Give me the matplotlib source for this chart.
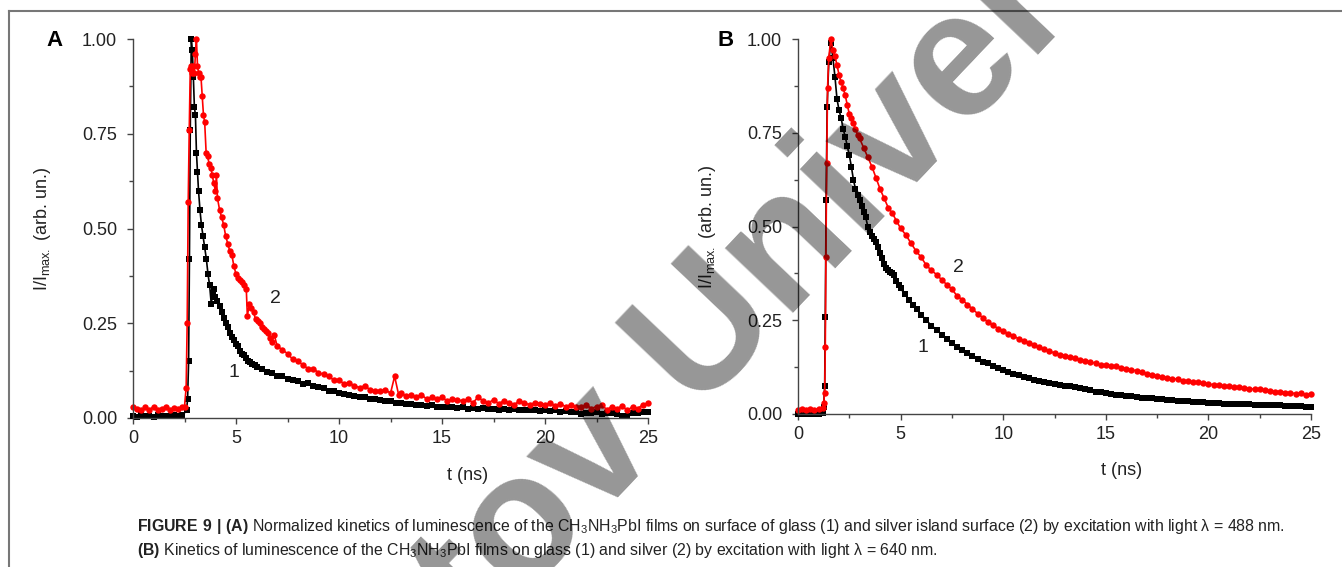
import matplotlib
matplotlib.use("Agg")
import matplotlib.pyplot as plt
from matplotlib.lines import Line2D
from matplotlib.ticker import MultipleLocator

plt.rcParams["font.family"] = ["Liberation Sans", "DejaVu Sans"]
plt.rcParams["mathtext.fontset"] = "custom"
plt.rcParams["mathtext.rm"] = "Liberation Sans"
plt.rcParams["mathtext.bf"] = "Liberation Sans:bold"
plt.rcParams["mathtext.default"] = "regular"

# ---- panel A: excitation 488 nm ----
t_a1 = [0.0, 0.2, 0.4, 0.6, 0.8, 1.0, 1.2, 1.4, 1.6, 1.8, 2.0, 2.2, 2.4, 2.6,
        2.65, 2.7, 2.74, 2.78, 2.83, 2.88, 2.93, 2.98, 3.03, 3.08, 3.13, 3.18,
        3.25, 3.32, 3.4, 3.48, 3.56, 3.64, 3.72, 3.8, 3.86, 3.93,
        4.0, 4.1, 4.2, 4.3, 4.4, 4.5, 4.6, 4.7, 4.8, 4.9, 5.0, 5.1, 5.2, 5.3,
        5.4, 5.5, 5.6, 5.7, 5.8, 5.9,
        6.0, 6.25, 6.5, 6.75, 7.0, 7.25, 7.5, 7.75, 8.0, 8.25, 8.5, 8.75,
        9.0, 9.25, 9.5, 9.75, 10.0, 10.25, 10.5, 10.75, 11.0, 11.25, 11.5,
        11.75, 12.0, 12.25, 12.5, 12.75, 13.0, 13.25, 13.5, 13.75, 14.0,
        14.25, 14.5, 14.75, 15.0, 15.25, 15.5, 15.75, 16.0, 16.25, 16.5,
        16.75, 17.0, 17.25, 17.5, 17.75, 18.0, 18.25, 18.5, 18.75, 19.0,
        19.25, 19.5, 19.75, 20.0, 20.25, 20.5, 20.75, 21.0, 21.25, 21.5,
        21.75, 22.0, 22.25, 22.5, 22.75, 23.0, 23.25, 23.5, 23.75, 24.0,
        24.25, 24.5, 24.75, 25.0]
i_a1 = [0.005, 0.003, 0.008, 0.004, 0.006, 0.003, 0.007, 0.005, 0.004, 0.006, 0.008, 0.005, 0.007, 0.02,
        0.05, 0.15, 0.42, 0.76, 1.0, 0.97, 0.90, 0.82, 0.80, 0.70, 0.65, 0.60,
        0.55, 0.51, 0.48, 0.45, 0.42, 0.38, 0.35, 0.30, 0.33, 0.34,
        0.32, 0.31, 0.295, 0.28, 0.265, 0.25, 0.24, 0.225, 0.215, 0.205, 0.195, 0.19, 0.178, 0.17,
        0.165, 0.158, 0.15, 0.148, 0.142, 0.14,
        0.135, 0.13, 0.122, 0.12, 0.11, 0.112, 0.104, 0.10, 0.097, 0.09, 0.092, 0.085,
        0.082, 0.08, 0.072, 0.07, 0.066, 0.064, 0.06, 0.058, 0.056, 0.055, 0.05,
        0.05, 0.047, 0.045, 0.044, 0.04, 0.04, 0.037, 0.038, 0.034, 0.035,
        0.032, 0.033, 0.03, 0.03, 0.028, 0.03, 0.026, 0.028, 0.025, 0.027,
        0.024, 0.026, 0.023, 0.025, 0.022, 0.024, 0.021, 0.023, 0.02, 0.022,
        0.02, 0.021, 0.018, 0.02, 0.019, 0.02, 0.017, 0.018, 0.016, 0.017,
        0.01, 0.014, 0.012, 0.015, 0.01, 0.012, 0.013, 0.01, 0.006, 0.004,
        0.012, 0.014, 0.015, 0.016]

t_a2 = [0.0, 0.2, 0.4, 0.6, 0.8, 1.0, 1.2, 1.4, 1.6, 1.8, 2.0, 2.2, 2.4, 2.5,
        2.58, 2.63, 2.68, 2.73, 2.78, 2.83, 2.88, 2.93, 2.98, 3.03, 3.08, 3.13,
        3.18, 3.23, 3.3, 3.36, 3.42, 3.48, 3.55, 3.62, 3.7, 3.78, 3.85, 3.92,
        4.0, 4.05, 4.1, 4.2, 4.3, 4.4, 4.5, 4.6, 4.7, 4.8, 4.9, 5.0, 5.1, 5.2,
        5.3, 5.4, 5.5, 5.55, 5.65, 5.75, 5.85, 5.95, 6.05, 6.15, 6.25, 6.35,
        6.45, 6.55, 6.65, 6.75, 6.85,
        7.0, 7.25, 7.5, 7.75, 8.0, 8.25, 8.5, 8.75, 9.0, 9.25, 9.5, 9.75,
        10.0, 10.25, 10.5, 10.75, 11.0, 11.25, 11.5, 11.75, 12.0, 12.25,
        12.5, 12.7, 12.9, 13.0, 13.25, 13.5, 13.75, 14.0, 14.25, 14.5, 14.75,
        15.0, 15.25, 15.5, 15.75, 16.0, 16.25, 16.5, 16.75, 17.0, 17.25,
        17.5, 17.75, 18.0, 18.25, 18.5, 18.75, 19.0, 19.25, 19.5, 19.75,
        20.0, 20.25, 20.5, 20.75, 21.0, 21.25, 21.5, 21.75, 22.0, 22.25,
        22.5, 22.75, 23.0, 23.25, 23.5, 23.75, 24.0, 24.25, 24.5, 24.75, 25.0]
i_a2 = [0.03, 0.025, 0.02, 0.028, 0.022, 0.03, 0.02, 0.025, 0.03, 0.022, 0.027, 0.025, 0.03, 0.03,
        0.08, 0.25, 0.57, 0.76, 0.92, 0.93, 0.91, 0.93, 0.91, 0.96, 1.0, 0.93,
        0.91, 0.90, 0.90, 0.85, 0.80, 0.78, 0.70, 0.69, 0.67, 0.66, 0.64, 0.62,
        0.60, 0.64, 0.58, 0.55, 0.53, 0.51, 0.48, 0.46, 0.44, 0.43, 0.40, 0.38, 0.37, 0.365,
        0.36, 0.35, 0.34, 0.27, 0.30, 0.29, 0.28, 0.26, 0.255, 0.25, 0.24, 0.235,
        0.23, 0.225, 0.21, 0.20, 0.22,
        0.19, 0.18, 0.17, 0.155, 0.15, 0.14, 0.13, 0.13, 0.12, 0.115, 0.11, 0.10,
        0.10, 0.09, 0.092, 0.085, 0.08, 0.085, 0.075, 0.072, 0.07, 0.075,
        0.065, 0.11, 0.06, 0.065, 0.058, 0.06, 0.055, 0.062, 0.05, 0.055, 0.05,
        0.055, 0.045, 0.05, 0.048, 0.045, 0.05, 0.04, 0.055, 0.045, 0.04,
        0.048, 0.038, 0.045, 0.04, 0.035, 0.045, 0.04, 0.035, 0.04, 0.038,
        0.035, 0.04, 0.032, 0.038, 0.03, 0.035, 0.03, 0.028, 0.035, 0.025,
        0.03, 0.035, 0.022, 0.03, 0.025, 0.032, 0.02, 0.03, 0.025, 0.035, 0.04]

# ---- panel B: excitation 640 nm ----
t_b1 = [0.0, 0.2, 0.4, 0.6, 0.8, 1.0, 1.2, 1.25, 1.3, 1.33, 1.37, 1.42, 1.5,
        1.6, 1.7, 1.8, 1.9, 2.0, 2.1, 2.2, 2.3, 2.4, 2.5, 2.6, 2.7, 2.8, 2.9,
        3.0, 3.1, 3.2, 3.3, 3.4, 3.5, 3.6, 3.7, 3.8, 3.9, 4.0, 4.1, 4.2, 4.3,
        4.4, 4.5, 4.6, 4.7, 4.8, 4.9, 5.0, 5.2, 5.4, 5.6, 5.8, 6.0,
        6.25, 6.5, 6.75, 7.0, 7.25, 7.5, 7.75, 8.0, 8.25, 8.5, 8.75, 9.0,
        9.25, 9.5, 9.75, 10.0, 10.25, 10.5, 10.75, 11.0, 11.25, 11.5, 11.75,
        12.0, 12.25, 12.5, 12.75, 13.0, 13.25, 13.5, 13.75, 14.0, 14.25,
        14.5, 14.75, 15.0, 15.25, 15.5, 15.75, 16.0, 16.25, 16.5, 16.75,
        17.0, 17.25, 17.5, 17.75, 18.0, 18.25, 18.5, 18.75, 19.0, 19.25,
        19.5, 19.75, 20.0, 20.25, 20.5, 20.75, 21.0, 21.25, 21.5, 21.75,
        22.0, 22.25, 22.5, 22.75, 23.0, 23.25, 23.5, 23.75, 24.0, 24.25,
        24.5, 24.75, 25.0]
i_b1 = [0.0, 0.0, 0.001, 0.0, 0.0, 0.0, 0.002, 0.02, 0.075, 0.26, 0.57, 0.82, 0.94,
        0.99, 0.95, 0.90, 0.84, 0.81, 0.79, 0.76, 0.74, 0.715, 0.69, 0.66, 0.625, 0.60, 0.585,
        0.57, 0.555, 0.54, 0.525, 0.50, 0.485, 0.475, 0.468, 0.46, 0.445, 0.43, 0.415, 0.40, 0.39,
        0.385, 0.38, 0.375, 0.37, 0.355, 0.345, 0.335, 0.32, 0.305, 0.29, 0.28, 0.265,
        0.25, 0.236, 0.225, 0.212, 0.20, 0.19, 0.18, 0.17, 0.163, 0.155, 0.148, 0.14,
        0.135, 0.128, 0.122, 0.118, 0.113, 0.108, 0.104, 0.099, 0.095, 0.092, 0.088,
        0.085, 0.083, 0.08, 0.078, 0.076, 0.074, 0.072, 0.069, 0.066, 0.063,
        0.06, 0.058, 0.055, 0.053, 0.05, 0.05, 0.048, 0.047, 0.046, 0.044,
        0.043, 0.042, 0.04, 0.04, 0.038, 0.037, 0.036, 0.035, 0.034, 0.033,
        0.032, 0.031, 0.03, 0.03, 0.029, 0.028, 0.028, 0.027, 0.027, 0.026,
        0.026, 0.025, 0.025, 0.025, 0.024, 0.023, 0.023, 0.022, 0.022, 0.021,
        0.021, 0.02, 0.02]

t_b2 = [0.0, 0.2, 0.4, 0.6, 0.8, 1.0, 1.2, 1.25, 1.3, 1.33, 1.36, 1.4, 1.44,
        1.5, 1.6, 1.7, 1.8, 1.9, 2.0, 2.1, 2.2, 2.3, 2.4, 2.5, 2.6, 2.7, 2.8,
        2.9, 3.0, 3.2, 3.4, 3.6, 3.8, 4.0, 4.2, 4.4, 4.6, 4.8, 5.0, 5.25,
        5.5, 5.75, 6.0, 6.25, 6.5, 6.75, 7.0, 7.25, 7.5, 7.75, 8.0, 8.25,
        8.5, 8.75, 9.0, 9.25, 9.5, 9.75, 10.0, 10.25, 10.5, 10.75, 11.0,
        11.25, 11.5, 11.75, 12.0, 12.25, 12.5, 12.75, 13.0, 13.25, 13.5,
        13.75, 14.0, 14.25, 14.5, 14.75, 15.0, 15.25, 15.5, 15.75, 16.0,
        16.25, 16.5, 16.75, 17.0, 17.25, 17.5, 17.75, 18.0, 18.25, 18.5,
        18.75, 19.0, 19.25, 19.5, 19.75, 20.0, 20.25, 20.5, 20.75, 21.0,
        21.25, 21.5, 21.75, 22.0, 22.25, 22.5, 22.75, 23.0, 23.25, 23.5,
        23.75, 24.0, 24.25, 24.5, 24.75, 25.0]
i_b2 = [0.012, 0.013, 0.012, 0.014, 0.012, 0.013, 0.015, 0.03, 0.056, 0.18, 0.42, 0.67, 0.87,
        0.95, 1.0, 0.97, 0.955, 0.93, 0.905, 0.885, 0.87, 0.85, 0.825, 0.80, 0.79, 0.775, 0.76,
        0.745, 0.735, 0.71, 0.685, 0.66, 0.63, 0.60, 0.575, 0.55, 0.535, 0.515, 0.495, 0.478,
        0.456, 0.435, 0.418, 0.397, 0.383, 0.372, 0.358, 0.345, 0.333, 0.315, 0.305, 0.292,
        0.28, 0.268, 0.257, 0.245, 0.237, 0.228, 0.221, 0.214, 0.209, 0.2, 0.196,
        0.19, 0.184, 0.178, 0.173, 0.167, 0.163, 0.158, 0.156, 0.151, 0.149,
        0.144, 0.142, 0.138, 0.136, 0.131, 0.13, 0.127, 0.128, 0.124, 0.121,
        0.117, 0.116, 0.111, 0.108, 0.105, 0.101, 0.098, 0.097, 0.094, 0.093,
        0.089, 0.088, 0.085, 0.085, 0.082, 0.08, 0.078, 0.077, 0.074, 0.074,
        0.071, 0.071, 0.069, 0.068, 0.066, 0.066, 0.063, 0.062, 0.06, 0.06,
        0.057, 0.057, 0.054, 0.055, 0.052, 0.053]

panel_letters = ["A", "B"]
curve_labels = ["1", "2"]
label_pos_a = [(4.9, 0.12), (6.9, 0.316)]
label_pos_b = [(6.1, 0.176), (7.8, 0.39)]

caption_1 = (r"$\mathbf{FIGURE\ 9\ |\ (A)}$ Normalized kinetics of luminescence of the "
             r"CH$_3$NH$_3$PbI films on surface of glass (1) and silver island surface (2) "
             "by excitation with light λ = 488 nm.")
caption_2 = (r"$\mathbf{(B)}$ Kinetics of luminescence of the CH$_3$NH$_3$PbI films on "
             "glass (1) and silver (2) by excitation with light λ = 640 nm.")

W, H = 1342, 567
fig = plt.figure(figsize=(W / 100, H / 100), dpi=100)

ax_a = fig.add_axes([133 / W, 1 - 418 / H, 515 / W, 379 / H])
ax_b = fig.add_axes([798 / W, 1 - 414 / H, 513 / W, 375 / H])

series = [
    (ax_a, t_a1, i_a1, t_a2, i_a2, label_pos_a, 0.65),
    (ax_b, t_b1, i_b1, t_b2, i_b2, label_pos_b, 0.63),
]

for ax, t1, v1, t2, v2, lab_pos, xlab_x in series:
    ax.plot(t1, v1, color="black", lw=1.2, marker="s", ms=4.0, mew=0, clip_on=False)
    ax.plot(t2, v2, color="red", lw=1.2, marker="o", ms=4.6, mew=0, clip_on=False)
    ax.set_xlim(0, 25)
    ax.set_ylim(0, 1.0)
    ax.xaxis.set_major_locator(MultipleLocator(5))
    ax.xaxis.set_minor_locator(MultipleLocator(2.5))
    ax.yaxis.set_major_locator(MultipleLocator(0.25))
    ax.yaxis.set_minor_locator(MultipleLocator(0.125))
    ax.yaxis.set_major_formatter(lambda v, p: f"{v:.2f}")
    for s in ["top", "right"]:
        ax.spines[s].set_visible(False)
    for s in ["left", "bottom"]:
        ax.spines[s].set_color("#444444")
        ax.spines[s].set_linewidth(1.0)
    ax.tick_params(which="major", direction="out", length=4.5, width=1.0,
                   color="#444444", labelsize=13, labelcolor="#222222")
    ax.tick_params(which="minor", direction="out", length=3, width=1.0, color="#444444")
    ax.tick_params(axis="y", which="major", pad=7)
    ax.tick_params(axis="x", which="major", pad=4)
    ax.set_xlabel("t (ns)", fontsize=13, color="#222222")
    ax.xaxis.set_label_coords(xlab_x, -0.128)
    ax.set_ylabel(r"I/I$_{max.}$ (arb. un.)", fontsize=13, color="#222222")
    ax.yaxis.set_label_coords(-0.155, 0.5)
    for txt, (x, y) in zip(curve_labels, lab_pos):
        ax.text(x, y, txt, fontsize=14, color="#222222", ha="center", va="center")

fig.text(55 / W, 1 - 41 / H, panel_letters[0], fontsize=16, fontweight="bold",
         ha="center", va="center")
fig.text(726 / W, 1 - 41 / H, panel_letters[1], fontsize=16, fontweight="bold",
         ha="center", va="center")

fig.text(137 / W, 1 - 527 / H, caption_1, fontsize=11.4, color="#222222",
         ha="left", va="center")
fig.text(137 / W, 1 - 550 / H, caption_2, fontsize=11.4, color="#222222",
         ha="left", va="center")

# page frame
fig.add_artist(Line2D([9 / W, 1], [1 - 11 / H, 1 - 11 / H], color="#777777", lw=1.5))
fig.add_artist(Line2D([9 / W, 9 / W], [0, 1 - 11 / H], color="#777777", lw=1.5))

# watermark
fig.text(779 / W, 1 - 328 / H, "tov Univer", fontsize=128, fontweight="bold",
         color="black", alpha=0.41, rotation=46.5, rotation_mode="anchor",
         ha="center", va="baseline", zorder=10)

fig.savefig("out.png", dpi=100)
